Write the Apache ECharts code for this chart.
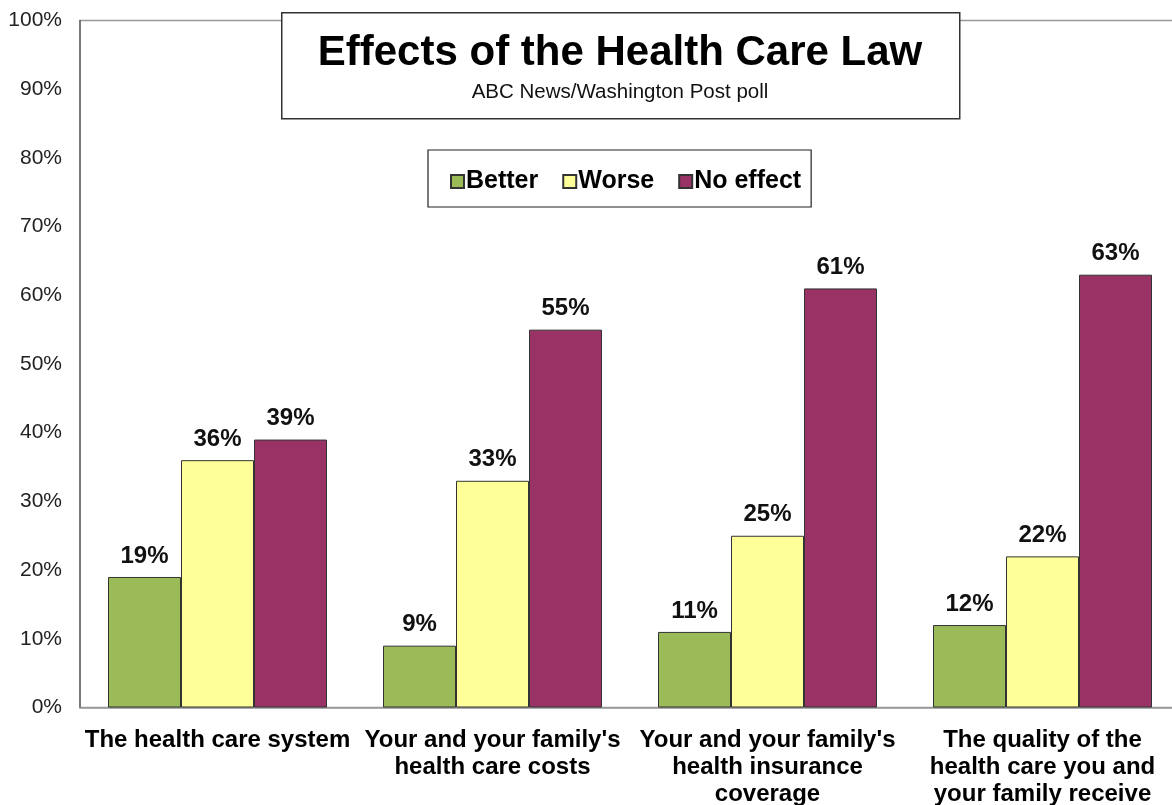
<!DOCTYPE html>
<html>
<head>
<meta charset="utf-8">
<script src="https://cdn.jsdelivr.net/npm/echarts@6/dist/echarts.min.js"></script>
<style>html,body{margin:0;padding:0;background:#fff;}#c{width:1172px;height:805px;}</style>
</head>
<body>
<div id="c"></div>
<script>
const categories = [
  "The health care system",
  "Your and your family's\nhealth care costs",
  "Your and your family's\nhealth insurance\ncoverage",
  "The quality of the\nhealth care you and\nyour family receive"
];
const better = [19, 9, 11, 12];
const worse = [36, 33, 25, 22];
const noEffect = [39, 55, 61, 63];
const yTicks = [0, 10, 20, 30, 40, 50, 60, 70, 80, 90, 100];

const chart = echarts.init(document.getElementById('c'));
const font = 'Liberation Sans, Arial, sans-serif';
const labelStyle = {
  show: true, position: 'top', distance: 9,
  formatter: '{c}%', fontFamily: font, fontWeight: 'bold', fontSize: 24, color: '#111'
};
function mk(name, data, color) {
  return {
    name: name, type: 'bar', data: data, barGap: '0%', barWidth: 73,
    itemStyle: { color: color, borderColor: '#333', borderWidth: 1 },
    label: labelStyle
  };
}
chart.setOption({
  animation: false,
  backgroundColor: '#fff',
  grid: { left: 80, top: 20.5, width: 1100, height: 687, outerBoundsMode: 'none', containLabel: false, show: true, borderColor: '#999', borderWidth: 1.5, backgroundColor: 'transparent' },
  graphic: [{
    type: 'rect', left: 281, top: 12, z: 10,
    shape: { width: 678, height: 106 },
    style: { fill: '#fff', stroke: '#333', lineWidth: 1.5 }
  }],
  title: {
    text: 'Effects of the Health Care Law',
    subtext: 'ABC News/Washington Post poll',
    left: 615, top: 27, textAlign: 'center', itemGap: 8, z: 20,
    textStyle: { fontFamily: font, fontWeight: 'bold', fontSize: 42, color: '#000' },
    subtextStyle: { fontFamily: font, fontSize: 20.5, color: '#111' }
  },
  legend: {
    data: ['Better', 'Worse', 'No effect'],
    left: 428, top: 150, width: 382,
    padding: [19, 10, 13, 22], itemGap: 24, itemWidth: 13, itemHeight: 13,
    backgroundColor: '#fff', borderColor: '#222', borderWidth: 1.2,
    icon: 'rect',
    textStyle: { fontFamily: font, fontWeight: 'bold', fontSize: 25, color: '#000', padding: [0, 0, 0, -3] }
  },
  xAxis: {
    type: 'category', data: categories,
    axisLine: { lineStyle: { color: '#999', width: 1.5 } },
    axisTick: { show: false },
    axisLabel: { interval: 0, margin: 19, fontFamily: font, fontWeight: 'bold', fontSize: 24, color: '#000', lineHeight: 27 }
  },
  yAxis: {
    type: 'value', min: 0, max: 100, interval: 10,
    axisLine: { show: true, lineStyle: { color: '#666', width: 1.5 } },
    axisTick: { show: false },
    splitLine: { show: false },
    axisLabel: { margin: 18, fontFamily: font, fontSize: 21, color: '#222', formatter: function (v) { return yTicks.indexOf(v) >= 0 ? v + '%' : ''; } }
  },
  series: [
    mk('Better', better, '#9BBB59'),
    mk('Worse', worse, '#FFFF99'),
    mk('No effect', noEffect, '#993366')
  ]
});
</script>
</body>
</html>
